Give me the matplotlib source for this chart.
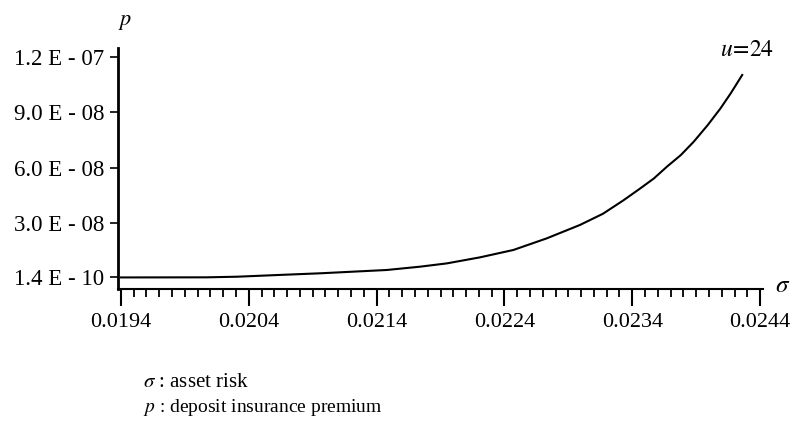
import numpy as np
import matplotlib.pyplot as plt
from matplotlib.ticker import FixedLocator, MultipleLocator

plt.rcParams['font.family'] = ['Liberation Serif', 'DejaVu Serif']
plt.rcParams['mathtext.fontset'] = 'stix'

# asset risk (sigma) vs deposit insurance premium (p), u = 24
sigma = [0.0194, 0.02007, 0.02031, 0.02064, 0.02096, 0.02122, 0.02148,
         0.02174, 0.02195, 0.02221, 0.02247, 0.02273, 0.02299, 0.02317,
         0.02333, 0.02346, 0.02357, 0.02367, 0.02378, 0.02388, 0.02399,
         0.02409, 0.02417, 0.02426]
premium = [1.4e-10, 2.0e-10, 5.4e-10, 1.5e-9, 2.4e-9, 3.3e-9, 4.2e-9,
           6.0e-9, 7.8e-9, 1.11e-8, 1.51e-8, 2.14e-8, 2.87e-8, 3.48e-8,
           4.21e-8, 4.85e-8, 5.41e-8, 6.04e-8, 6.68e-8, 7.4e-8, 8.31e-8,
           9.22e-8, 1.004e-7, 1.104e-7]

x_ticks = [0.0194, 0.0204, 0.0214, 0.0224, 0.0234, 0.0244]
x_labels = ['0.0194', '0.0204', '0.0214', '0.0224', '0.0234', '0.0244']
y_ticks = [1.4e-10, 3.0e-8, 6.0e-8, 9.0e-8, 1.2e-7]
y_labels = ['1.4 E - 10', '3.0 E - 08', '6.0 E - 08', '9.0 E - 08', '1.2 E - 07']

fig = plt.figure(figsize=(7.94, 4.41), dpi=100)
ax = fig.add_axes([0.1486, 0.3447, 0.8124, 0.5463])

ax.plot(sigma, premium, color='black', lw=1.5)

ax.set_xlim(0.019377, 0.024423)
ax.set_ylim(-6.15e-9, 1.2507e-7)

ax.spines['top'].set_visible(False)
ax.spines['right'].set_visible(False)
ax.spines['left'].set_linewidth(2.0)
ax.spines['bottom'].set_linewidth(1.5)

ax.xaxis.set_major_locator(FixedLocator(x_ticks))
ax.set_xticklabels(x_labels)
ax.xaxis.set_minor_locator(MultipleLocator(0.0001))
ax.tick_params(axis='x', which='major', direction='out', length=12, width=1.5,
               labelsize=16, pad=5)
ax.tick_params(axis='x', which='minor', direction='out', length=6, width=1.3)

ax.yaxis.set_major_locator(FixedLocator(y_ticks))
ax.set_yticklabels(y_labels)
ax.tick_params(axis='y', which='major', direction='out', length=6, width=1.2,
               labelsize=16.5, pad=4)

ax.text(0.01943, 1.39e-7, '$p$', fontsize=16, ha='center', va='center',
        clip_on=False)
ax.text(0.024295, 1.24e-7, '$u\\!=\\!24$', fontsize=17, ha='center', va='center')
ax.text(0.024575, -4.5e-9, '$\\sigma$', fontsize=18, ha='center', va='center',
        clip_on=False)

fig.text(0.180, 0.132, '$\\sigma$ : asset risk', fontsize=15, va='center')
fig.text(0.180, 0.077, '$p$ : deposit insurance premium', fontsize=14, va='center')

fig.savefig('out.png', dpi=100)
